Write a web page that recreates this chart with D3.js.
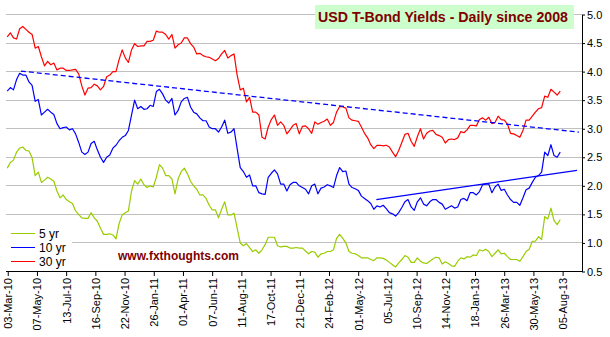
<!DOCTYPE html>
<html><head><meta charset="utf-8">
<script src="https://cdn.jsdelivr.net/npm/d3@7"></script>
<style>body{margin:0;background:#fff}svg{display:block}text{font-family:"Liberation Sans",Arial,sans-serif}</style>
</head><body><svg id="c" width="610" height="337"></svg>
<script>
// x positions are weekday indexes counted from 03-Mar-10
const tickLabels = ["03-Mar-10","07-May-10","13-Jul-10","16-Sep-10","22-Nov-10","26-Jan-11","01-Apr-11","07-Jun-11","11-Aug-11","17-Oct-11","21-Dec-11","24-Feb-12","01-May-12","05-Jul-12","10-Sep-12","14-Nov-12","18-Jan-13","26-Mar-13","30-May-13","05-Aug-13"];
const tickStep = 47;   // weekdays between labels
const weekStep = 5;    // weekdays between samples
const yTicks = [0.5,1.0,1.5,2.0,2.5,3.0,3.5,4.0,4.5,5.0];
const seriesNames = ["5 yr","10 yr","30 yr"];
const seriesColors = ["#99cc00","#0000ff","#ff0000"];

const yield5 = [2.31,2.41,2.45,2.59,2.66,2.68,2.62,2.61,2.49,2.18,
2.24,2.06,2.10,2.15,2.12,2.08,1.91,1.79,1.84,1.76,
1.72,1.69,1.56,1.50,1.44,1.43,1.43,1.53,1.44,1.38,
1.26,1.15,1.15,1.16,1.14,1.07,1.34,1.49,1.53,1.56,
1.91,2.09,2.03,2.12,2.02,1.97,2.00,1.98,2.15,2.37,
2.31,2.18,2.18,2.12,1.86,2.12,2.25,2.31,2.21,2.08,
2.00,1.94,1.84,1.84,1.78,1.66,1.58,1.58,1.44,1.59,
1.72,1.49,1.49,1.52,1.26,1.00,0.95,0.99,0.92,0.85,
0.88,0.82,0.88,0.97,1.10,1.10,1.10,0.95,0.93,0.94,
0.94,0.91,0.91,0.92,0.91,0.91,0.86,0.81,0.85,0.84,
0.75,0.81,0.82,0.85,0.85,0.88,1.08,1.15,1.08,1.00,
0.85,0.82,0.81,0.78,0.74,0.74,0.74,0.71,0.69,0.74,
0.74,0.73,0.70,0.66,0.62,0.58,0.65,0.71,0.78,0.75,
0.66,0.66,0.74,0.68,0.65,0.64,0.68,0.72,0.75,0.74,
0.63,0.67,0.64,0.60,0.59,0.68,0.74,0.72,0.76,0.75,
0.79,0.78,0.88,0.86,0.89,0.85,0.76,0.82,0.88,0.81,
0.82,0.76,0.71,0.71,0.71,0.68,0.76,0.85,0.89,1.03,
1.03,1.11,1.06,1.46,1.42,1.61,1.39,1.32,1.41];

const yield10 = [3.66,3.72,3.68,3.86,3.97,3.94,3.94,3.82,3.76,3.48,
3.51,3.24,3.29,3.34,3.29,3.25,3.09,3.00,3.02,3.03,
2.98,3.00,2.91,2.76,2.59,2.55,2.59,2.74,2.78,2.63,
2.50,2.41,2.50,2.54,2.66,2.71,2.79,2.85,2.88,2.97,
3.24,3.50,3.35,3.39,3.34,3.35,3.41,3.39,3.65,3.69,
3.61,3.50,3.45,3.53,3.24,3.32,3.47,3.53,3.55,3.38,
3.29,3.26,3.19,3.14,3.14,3.03,3.00,3.00,2.94,3.03,
3.15,2.92,2.94,3.00,2.65,2.32,2.25,2.15,2.19,2.00,
2.00,1.88,1.86,1.85,2.15,2.22,2.28,2.21,2.03,2.03,
1.91,2.02,2.06,2.06,2.00,1.97,1.94,1.86,2.00,2.03,
1.86,1.96,1.98,2.02,2.00,1.97,2.18,2.32,2.25,2.26,
2.03,1.97,1.95,1.92,1.82,1.78,1.74,1.69,1.59,1.65,
1.63,1.66,1.60,1.53,1.51,1.47,1.53,1.62,1.72,1.76,
1.63,1.57,1.72,1.79,1.68,1.65,1.72,1.76,1.76,1.71,
1.68,1.59,1.62,1.65,1.61,1.63,1.76,1.78,1.74,1.88,
1.88,1.84,1.90,2.02,2.03,2.03,1.88,1.98,2.03,1.92,
1.94,1.84,1.76,1.71,1.71,1.66,1.79,1.93,1.96,2.06,
2.15,2.18,2.24,2.59,2.53,2.72,2.53,2.50,2.59];

const yield30 = [4.61,4.68,4.59,4.57,4.75,4.79,4.74,4.69,4.65,4.41,
4.44,4.26,4.10,4.18,4.12,4.15,4.03,4.06,4.06,4.02,
4.02,4.03,4.04,3.96,3.75,3.59,3.71,3.72,3.78,3.75,
3.68,3.74,3.91,3.94,4.00,4.00,4.21,4.38,4.24,4.16,
4.38,4.49,4.44,4.45,4.45,4.53,4.53,4.55,4.71,4.69,
4.69,4.65,4.57,4.65,4.41,4.47,4.50,4.59,4.59,4.49,
4.43,4.31,4.32,4.28,4.26,4.25,4.22,4.19,4.23,4.31,
4.37,4.24,4.28,4.31,3.94,3.68,3.71,3.47,3.55,3.29,
3.29,3.24,2.85,2.82,3.03,3.16,3.24,3.06,3.12,3.06,
2.91,2.98,3.06,3.09,2.91,3.04,3.05,3.00,2.92,3.12,
3.08,3.11,3.13,3.17,3.06,3.11,3.29,3.39,3.38,3.36,
3.19,3.15,3.14,3.13,3.03,2.92,2.84,2.72,2.65,2.71,
2.71,2.70,2.71,2.68,2.59,2.51,2.62,2.76,2.90,2.92,
2.78,2.69,2.86,3.00,2.82,2.92,2.96,2.97,2.90,2.88,
2.85,2.75,2.81,2.82,2.81,2.84,2.95,2.93,2.98,3.06,
3.06,3.05,3.16,3.19,3.15,3.20,3.09,3.11,3.22,3.16,
3.15,3.08,2.92,2.91,2.88,2.85,2.97,3.15,3.15,3.22,
3.29,3.35,3.37,3.57,3.55,3.69,3.64,3.59,3.66];

// trend lines: [weekday index, yield]
const trendDown = [[22,4.01],[920,2.94]];
const trendUp = [[594,1.76],[917,2.27]];

const svg = d3.select("#c");
const W = 610, H = 337;
svg.append("rect").attr("width",W).attr("height",H).attr("fill","#fff");

const x = d3.scaleLinear().domain([-2,925]).range([6,582]);
const y = d3.scaleLinear().domain([0.5,5]).range([271.5,14.5]);
const crisp = v => Math.round(v) + 0.5;

// gridlines
svg.append("g").selectAll("line").data(yTicks.filter(d => d > 0.5)).join("line")
  .attr("x1", x.range()[0]).attr("x2", x.range()[1])
  .attr("y1", d => crisp(y(d) - 0.5)).attr("y2", d => crisp(y(d) - 0.5))
  .attr("stroke","#c0c0c0").attr("stroke-width",1);

// title box
const tg = svg.append("g");
tg.append("rect").attr("x",315).attr("y",5).attr("width",259).attr("height",24).attr("fill","#ccffcc");
tg.append("text").attr("x",318).attr("y",22).attr("fill","#800000")
  .attr("font-size","14.2px").attr("font-weight","bold").text("USD T-Bond Yields - Daily since 2008");

// series
const line = d3.line().x((d,i) => x(i*weekStep)).y(d => y(d));
const allSeries = [yield5, yield10, yield30];
allSeries.forEach((s, k) => {
  svg.append("path").datum(s).attr("d", line).attr("fill","none")
    .attr("stroke", seriesColors[k]).attr("stroke-width",1.2).attr("stroke-linejoin","round");
});

// trend lines
const tline = d3.line().x(d => x(d[0])).y(d => y(d[1]));
svg.append("path").datum(trendDown).attr("d", tline).attr("fill","none")
  .attr("stroke","#0000ff").attr("stroke-width",1.3).attr("stroke-dasharray","5,3");
svg.append("path").datum(trendUp).attr("d", tline).attr("fill","none")
  .attr("stroke","#0000ff").attr("stroke-width",1.3);

// x axis
const tickIdx = tickLabels.map((d,i) => i*tickStep);
const xAxis = d3.axisBottom(x).tickValues(tickIdx).tickSize(5).tickSizeOuter(0)
  .tickFormat((d,i) => tickLabels[i]);
const gx = svg.append("g").attr("transform","translate(0,271)").call(xAxis);
gx.select(".domain").attr("stroke","#000").attr("d","M"+x.range()[0]+",0.5H"+x.range()[1]);
gx.selectAll(".tick line").attr("stroke","#000").attr("transform","translate(0.5,0)");
gx.selectAll(".tick text").attr("transform","rotate(-90)").attr("x",-7).attr("y",0.5)
  .attr("dy","0.35em").style("text-anchor","end").attr("font-size","11px")
  .attr("font-family","'Liberation Sans',Arial,sans-serif").attr("fill","#000");

// y axis right
const yAxis = d3.axisRight(y).tickValues(yTicks).tickSize(3).tickSizeOuter(0).tickFormat(d3.format(".1f"));
const gy = svg.append("g").attr("transform","translate(582,0)").call(yAxis);
gy.select(".domain").attr("stroke","#000");
gy.selectAll(".tick line").attr("stroke","#000");
gy.selectAll(".tick text").attr("x",5).attr("font-size","11px")
  .attr("font-family","'Liberation Sans',Arial,sans-serif").attr("fill","#000");

// legend
const lg = svg.append("g");
lg.append("rect").attr("x",0).attr("y",226).attr("width",72).attr("height",43).attr("fill","#fff");
seriesNames.forEach((n,k) => {
  const ly = 233.5 + k*14;
  lg.append("line").attr("x1",11).attr("x2",35).attr("y1",ly).attr("y2",ly)
    .attr("stroke",seriesColors[k]).attr("stroke-width",1);
  lg.append("text").attr("x",39).attr("y",ly+4.5).attr("font-size","12px").attr("fill","#000").text(n);
});

// watermark
svg.append("text").attr("x",118).attr("y",260).attr("fill","#800000")
  .attr("font-size","12px").attr("font-weight","bold").text("www.fxthoughts.com");
</script></body></html>
